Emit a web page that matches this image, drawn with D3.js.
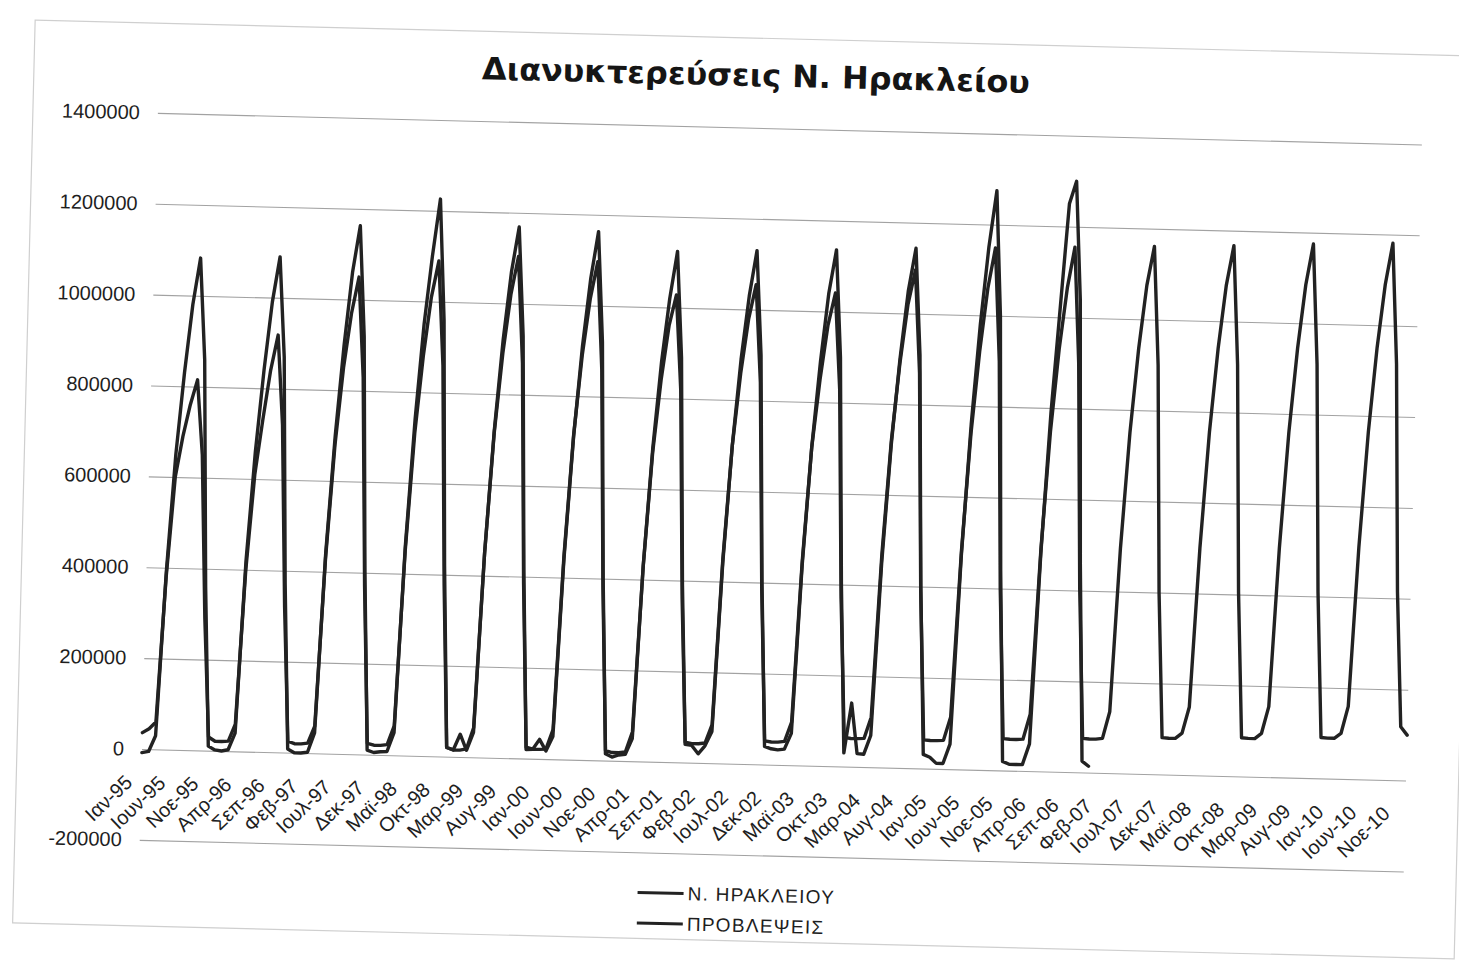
<!DOCTYPE html>
<html><head><meta charset="utf-8">
<script src="https://cdn.jsdelivr.net/npm/d3@7"></script>
<style>body{margin:0;background:#fff;} svg{display:block;}</style>
</head><body><svg id="chart" width="1459" height="965"></svg>
<script>
// ---------- data ----------
const titleText = "Διανυκτερεύσεις Ν. Ηρακλείου";
const seriesNames = ["Ν. ΗΡΑΚΛΕΙΟΥ", "ΠΡΟΒΛΕΨΕΙΣ"];
const monthNames = ["Ιαν","Φεβ","Μαρ","Απρ","Μαϊ","Ιουν","Ιουλ","Αυγ","Σεπ","Οκτ","Νοε","Δεκ"];
const years = ["95","96","97","98","99","00","01","02","03","04","05","06","07","08","09","10"];
const categories = years.flatMap(yy => monthNames.map(m => m + "-" + yy));
const tickLabels = ["Ιαν-95","Ιουν-95","Νοε-95","Απρ-96","Σεπ-96","Φεβ-97","Ιουλ-97","Δεκ-97","Μαϊ-98","Οκτ-98",
  "Μαρ-99","Αυγ-99","Ιαν-00","Ιουν-00","Νοε-00","Απρ-01","Σεπ-01","Φεβ-02","Ιουλ-02","Δεκ-02",
  "Μαϊ-03","Οκτ-03","Μαρ-04","Αυγ-04","Ιαν-05","Ιουν-05","Νοε-05","Απρ-06","Σεπ-06","Φεβ-07",
  "Ιουλ-07","Δεκ-07","Μαϊ-08","Οκτ-08","Μαρ-09","Αυγ-09","Ιαν-10","Ιουν-10","Νοε-10"];
const yTicks = [-200000, 0, 200000, 400000, 600000, 800000, 1000000, 1200000, 1400000];

// Ν. ΗΡΑΚΛΕΙΟΥ, Ιαν-95 .. Δεκ-06
const actual = [
  -8000, -5000, 30000, 390000, 650000, 830000, 980000, 1083000, 860000, 360000, 10000, 2000,
  0, 3000, 40000, 420000, 660000, 840000, 990000, 1090000, 870000, 370000, 8000, 0,
  0, 2000, 45000, 440000, 700000, 900000, 1060000, 1163000, 920000, 400000, 10000, 5000,
  7000, 8000, 50000, 460000, 740000, 950000, 1100000, 1226000, 960000, 420000, 20000, 15000,
  50000, 15000, 55000, 450000, 720000, 920000, 1070000, 1169000, 930000, 410000, 20000, 21000,
  43000, 18000, 50000, 440000, 710000, 910000, 1060000, 1163000, 920000, 400000, 15000, 8000,
  13000, 15000, 50000, 430000, 690000, 880000, 1020000, 1124000, 890000, 390000, 40000, 38000,
  20000, 38000, 70000, 440000, 700000, 890000, 1030000, 1130000, 900000, 400000, 40000, 35000,
  33000, 35000, 70000, 440000, 700000, 890000, 1040000, 1136000, 900000, 400000, 30000, 140000,
  29000, 28000, 70000, 450000, 710000, 900000, 1050000, 1144000, 910000, 400000, 31000, 25000,
  12000, 12000, 55000, 470000, 760000, 980000, 1150000, 1275000, 1000000, 440000, 20000, 14000,
  14000, 14000, 60000, 480000, 790000, 1020000, 1250000, 1300000, 1040000, 460000, 25000, 14000
];

// ΠΡΟΒΛΕΨΕΙΣ, Ιαν-95 .. Δεκ-10
const forecast = [
  36000, 45000, 60000, 380000, 600000, 690000, 760000, 815000, 650000, 290000, 30000, 21000,
  21000, 22000, 60000, 400000, 610000, 730000, 840000, 918000, 720000, 320000, 25000, 20000,
  20000, 22000, 60000, 430000, 680000, 850000, 970000, 1050000, 830000, 370000, 25000, 21000,
  21000, 23000, 65000, 450000, 710000, 880000, 1010000, 1090000, 860000, 380000, 20000, 15000,
  15000, 18000, 65000, 450000, 715000, 890000, 1020000, 1104000, 870000, 385000, 25000, 21000,
  21000, 22000, 65000, 450000, 715000, 890000, 1015000, 1097000, 860000, 380000, 22000, 18000,
  18000, 20000, 65000, 430000, 680000, 840000, 960000, 1028000, 820000, 360000, 45000, 42000,
  42000, 44000, 85000, 450000, 700000, 860000, 980000, 1055000, 840000, 380000, 52000, 50000,
  50000, 52000, 95000, 450000, 700000, 850000, 970000, 1041000, 830000, 370000, 64000, 62000,
  62000, 63000, 110000, 470000, 720000, 890000, 1020000, 1096000, 870000, 390000, 63000, 62000,
  62000, 63000, 115000, 480000, 740000, 920000, 1060000, 1149000, 900000, 400000, 70000, 69000,
  69000, 70000, 125000, 490000, 750000, 930000, 1065000, 1155000, 900000, 405000, 75000, 74000,
  74000, 76000, 135000, 495000, 750000, 935000, 1075000, 1161000, 900000, 400000, 81000, 80000,
  80000, 92000, 150000, 500000, 755000, 940000, 1080000, 1167000, 905000, 405000, 85000, 84000,
  84000, 96000, 155000, 505000, 760000, 945000, 1085000, 1175000, 910000, 410000, 90000, 89000,
  89000, 100000, 160000, 510000, 765000, 950000, 1090000, 1181000, 915000, 415000, 118000, 100000
];

// ---------- drawing ----------
const W = 1459, H = 965;
const plotL = 142, plotR = 1406.4, plotT = 112.7, plotB = 839.9;
const ink = "#222222";

const svg = d3.select("#chart");
svg.append("rect").attr("width", W).attr("height", H).attr("fill", "#fff");

// whole chart slightly tilted, as in the scanned reference
const root = svg.append("g").attr("transform", "rotate(1.43," + plotL + ",749)");

root.append("rect").attr("x", 17).attr("y", 23).attr("width", 1442).attr("height", 903)
  .attr("fill", "none").attr("stroke", "#cfcfcf").attr("stroke-width", 1.2);

const x = d3.scalePoint().domain(categories).range([plotL, plotR]);
const y = d3.scaleLinear().domain([-200000, 1400000]).range([plotB, plotT]);

// gridlines
root.append("g").attr("transform", "translate(" + plotL + ",0)")
  .call(d3.axisLeft(y).tickValues(yTicks).tickSize(-(plotR - plotL)).tickFormat(""))
  .call(g => g.select(".domain").remove())
  .call(g => g.selectAll("line").attr("stroke", "#a2a2a2").attr("stroke-width", 1.1));

// y labels
root.append("g").attr("transform", "translate(" + plotL + ",0)")
  .call(d3.axisLeft(y).tickValues(yTicks).tickSize(0).tickPadding(18).tickFormat(d => String(d)))
  .call(g => g.select(".domain").remove())
  .attr("font-family", "'Liberation Sans', Arial, sans-serif").attr("font-size", 20)
  .call(g => g.selectAll("text").attr("fill", "#1e1e1e"));

// x labels
root.append("g").attr("transform", "translate(0," + y(0) + ")")
  .call(d3.axisBottom(x).tickValues(tickLabels).tickSize(0))
  .call(g => g.select(".domain").remove())
  .attr("font-family", "'Liberation Sans', Arial, sans-serif").attr("font-size", 20)
  .call(g => g.selectAll("text")
    .attr("x", 0).attr("y", 0).attr("dy", null)
    .attr("text-anchor", "end").attr("fill", "#1e1e1e")
    .attr("transform", "translate(-8,35) rotate(-45)"));

// series lines
const line = d3.line().x((d, i) => x(categories[i])).y(d => y(d)).curve(d3.curveLinear);
root.append("path").datum(forecast).attr("d", line)
  .attr("fill", "none").attr("stroke", ink).attr("stroke-width", 3.4)
  .attr("stroke-linejoin", "round").attr("stroke-linecap", "round");
root.append("path").datum(actual).attr("d", line)
  .attr("fill", "none").attr("stroke", ink).attr("stroke-width", 3.4)
  .attr("stroke-linejoin", "round").attr("stroke-linecap", "round");

// title
root.append("text").attr("x", 739).attr("y", 60)
  .attr("text-anchor", "middle").attr("dominant-baseline", "central")
  .attr("font-family", "'DejaVu Sans', Verdana, sans-serif").attr("font-weight", "bold")
  .attr("font-size", 31).attr("fill", "#151515")
  .attr("textLength", 548).attr("lengthAdjust", "spacingAndGlyphs")
  .text(titleText);

// legend
const legend = root.append("g").attr("transform", "translate(641,880)");
const rows = legend.selectAll("g").data(seriesNames).join("g")
  .attr("transform", (d, i) => "translate(0," + (i * 30.5) + ")");
rows.append("line").attr("x1", 0).attr("x2", 46).attr("y1", 0).attr("y2", 0)
  .attr("stroke", ink).attr("stroke-width", 3);
rows.append("text").attr("x", 50).attr("y", 0).attr("dominant-baseline", "central")
  .attr("font-family", "'Liberation Sans', Arial, sans-serif").attr("font-size", 19)
  .attr("letter-spacing", 1.3).attr("fill", "#1e1e1e")
  .text(d => d);
</script></body></html>
